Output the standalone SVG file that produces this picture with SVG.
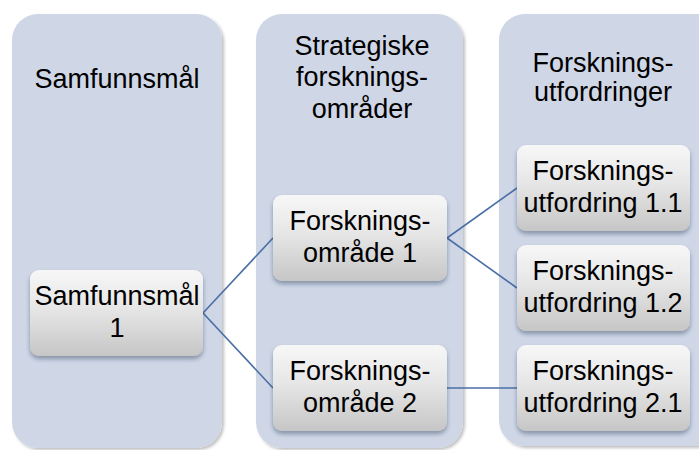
<svg xmlns="http://www.w3.org/2000/svg" width="699" height="450" viewBox="0 0 699 450">
<defs>
<linearGradient id="boxGrad" x1="0" y1="0" x2="0" y2="1">
<stop offset="0" stop-color="#f7f7f7"/>
<stop offset="0.45" stop-color="#e6e6e6"/>
<stop offset="1" stop-color="#c6c6c6"/>
</linearGradient>
<filter id="colShadow" x="-10%" y="-10%" width="120%" height="120%">
<feDropShadow dx="2" dy="2" stdDeviation="1.5" flood-color="#000" flood-opacity="0.25"/>
</filter>
<filter id="boxShadow" x="-10%" y="-10%" width="120%" height="130%">
<feDropShadow dx="0" dy="3" stdDeviation="2" flood-color="#1f2d4a" flood-opacity="0.4"/>
</filter>
</defs>
<style>
.col{fill:#cfd6e6;filter:url(#colShadow)}
.box{fill:url(#boxGrad);filter:url(#boxShadow)}
text{font-family:"Liberation Sans",Arial,sans-serif;font-size:27px;fill:#000;text-anchor:middle}
.conn{stroke:#4a6fa5;stroke-width:1.6;fill:none}
</style>
<rect width="699" height="450" fill="#fff"/>
<g id="col-samfunnsmal">
<rect class="col" x="12" y="14" width="210" height="434" rx="26"/>
<text x="117" y="88">Samfunnsmål</text>
</g>
<g id="col-strategiske">
<rect class="col" x="256" y="14" width="207" height="434" rx="26"/>
<text x="362" y="55">Strategiske</text>
<text x="362" y="86">forsknings-</text>
<text x="362" y="118">områder</text>
</g>
<g id="col-utfordringer">
<rect class="col" x="499" y="14" width="230" height="432" rx="26"/>
<text x="603" y="72">Forsknings-</text>
<text x="603" y="101">utfordringer</text>
</g>
<g id="connectors">
<line class="conn" x1="203" y1="313" x2="273" y2="238"/>
<line class="conn" x1="203" y1="313" x2="273" y2="388"/>
<line class="conn" x1="447" y1="238" x2="517" y2="188"/>
<line class="conn" x1="447" y1="238" x2="517" y2="288"/>
<line class="conn" x1="447" y1="388" x2="517" y2="388"/>
</g>
<g id="node-samfunnsmal-1">
<rect class="box" x="30" y="270" width="173" height="86" rx="9"/>
<text x="117" y="305">Samfunnsmål</text>
<text x="117" y="337">1</text>
</g>
<g id="node-forskningsomrade-1">
<rect class="box" x="273" y="195" width="174" height="86" rx="9"/>
<text x="360" y="230">Forsknings-</text>
<text x="360" y="262">område 1</text>
</g>
<g id="node-forskningsomrade-2">
<rect class="box" x="273" y="345" width="174" height="86" rx="9"/>
<text x="360" y="380">Forsknings-</text>
<text x="360" y="412">område 2</text>
</g>
<g id="node-utfordring-1-1">
<rect class="box" x="517" y="145" width="173" height="86" rx="9"/>
<text x="603" y="180">Forsknings-</text>
<text x="603" y="212">utfordring 1.1</text>
</g>
<g id="node-utfordring-1-2">
<rect class="box" x="517" y="245" width="173" height="86" rx="9"/>
<text x="603" y="280">Forsknings-</text>
<text x="603" y="312">utfordring 1.2</text>
</g>
<g id="node-utfordring-2-1">
<rect class="box" x="517" y="345" width="173" height="86" rx="9"/>
<text x="603" y="380">Forsknings-</text>
<text x="603" y="412">utfordring 2.1</text>
</g>
</svg>
